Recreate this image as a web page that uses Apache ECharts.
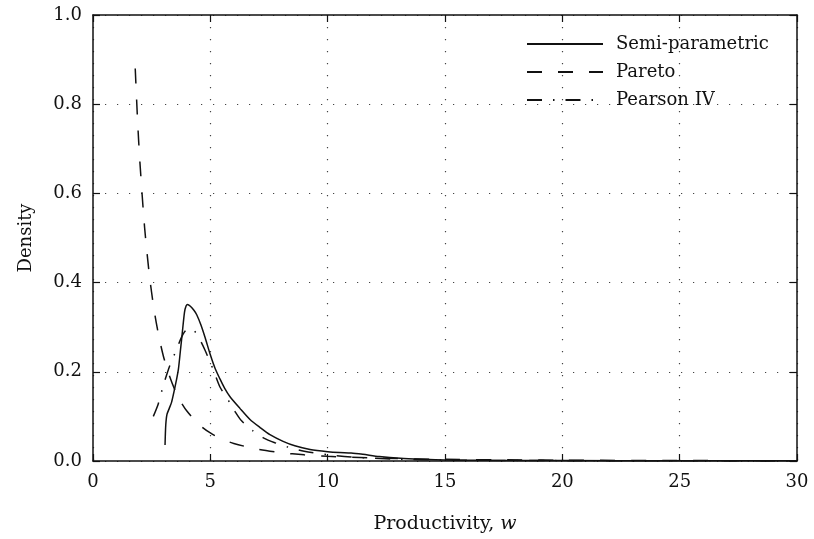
<!DOCTYPE html>
<html>
<head>
<meta charset="utf-8">
<script src="https://cdn.jsdelivr.net/npm/echarts@6/dist/echarts.min.js"></script>
<style>
  html, body { margin: 0; padding: 0; background: #fff; }
  #chart { width: 814px; height: 539px; }
</style>
</head>
<body>
<div id="chart"></div>
<script>
// Estimated density of productivity w under three models
const semiParametric = [
  [3.07, 0.036], [3.10, 0.080], [3.15, 0.104], [3.25, 0.118], [3.35, 0.132],
  [3.45, 0.155], [3.55, 0.180], [3.64, 0.206], [3.72, 0.245], [3.80, 0.285],
  [3.90, 0.334], [3.97, 0.348], [4.03, 0.351], [4.15, 0.347], [4.30, 0.338],
  [4.42, 0.328], [4.60, 0.305], [4.77, 0.278], [5.00, 0.238], [5.20, 0.208],
  [5.41, 0.184], [5.60, 0.164], [5.84, 0.144], [6.26, 0.118], [6.69, 0.093],
  [7.12, 0.075], [7.54, 0.059], [8.10, 0.044], [8.60, 0.034], [9.25, 0.026],
  [10.0, 0.021], [10.5, 0.019], [11.0, 0.018], [11.5, 0.015], [12.2, 0.010],
  [13.1, 0.006], [14.0, 0.004], [15.0, 0.0025], [17.0, 0.0016], [20.0, 0.0010],
  [25.0, 0.0006], [30.0, 0.0003]
];

const pareto = [
  [1.80, 0.880], [1.90, 0.763], [2.00, 0.669], [2.20, 0.523], [2.40, 0.418],
  [2.60, 0.340], [2.80, 0.281], [3.00, 0.235], [3.25, 0.192], [3.50, 0.158],
  [3.75, 0.132], [4.00, 0.112], [4.50, 0.0825], [5.00, 0.0628], [5.50, 0.049],
  [6.00, 0.0393], [7.00, 0.0264], [8.00, 0.0187], [9.00, 0.0138], [10.0, 0.0105],
  [12.0, 0.0066], [15.0, 0.0037], [20.0, 0.0018], [25.0, 0.0010], [30.0, 0.0006]
];

const pearsonIV = [
  [2.57, 0.100], [2.78, 0.128], [3.00, 0.170], [3.28, 0.215], [3.56, 0.250],
  [3.75, 0.275], [3.92, 0.291], [4.13, 0.298], [4.30, 0.293], [4.50, 0.278],
  [4.77, 0.249], [5.13, 0.204], [5.41, 0.166], [5.84, 0.130], [6.05, 0.111],
  [6.33, 0.090], [6.83, 0.067], [7.26, 0.052], [7.75, 0.041], [8.32, 0.031],
  [9.00, 0.022], [10.0, 0.014], [11.0, 0.009], [12.0, 0.006], [13.0, 0.004],
  [15.0, 0.002], [20.0, 0.0008], [25.0, 0.0004], [30.0, 0.0002]
];

const seriesNames = ['Semi-parametric', 'Pareto', 'Pearson IV'];
const xTicks = [0, 5, 10, 15, 20, 25, 30];
const yTicks = [0.0, 0.2, 0.4, 0.6, 0.8, 1.0];

const FONT = '"DejaVu Serif", "Liberation Serif", serif';
const INK = '#111';
const FS = 18;

const chart = echarts.init(document.getElementById('chart'), null, { renderer: 'canvas' });

const frameAxis = {
  axisLine: { show: true, onZero: false, lineStyle: { color: INK, width: 1.5 } },
  axisTick: { show: true, inside: true, length: 7, lineStyle: { color: INK, width: 1.2 } },
  axisLabel: { show: false },
  splitLine: { show: false }
};

chart.setOption({
  animation: false,
  backgroundColor: '#fff',
  grid: { left: 93, right: 17, top: 15, bottom: 78 },
  legend: {
    orient: 'vertical',
    left: 526,
    top: 35,
    padding: 0,
    itemWidth: 76,
    itemHeight: 20,
    itemGap: 10,
    data: seriesNames,
    itemStyle: { opacity: 0 },
    textStyle: { fontFamily: FONT, fontSize: FS, color: INK, padding: [0, 0, 0, 8] }
  },
  xAxis: [
    {
      type: 'value', min: xTicks[0], max: xTicks[xTicks.length - 1], interval: 5,
      position: 'bottom',
      name: '{n|Productivity, }{w|w}',
      nameLocation: 'middle',
      nameGap: 54,
      nameTextStyle: {
        rich: {
          n: { fontFamily: FONT, fontSize: 19, color: INK },
          w: { fontFamily: FONT, fontSize: 19, fontStyle: 'italic', color: INK }
        }
      },
      axisLine: { show: true, onZero: false, lineStyle: { color: INK, width: 1.5 } },
      axisTick: { show: true, inside: true, length: 7, lineStyle: { color: INK, width: 1.2 } },
      axisLabel: { fontFamily: FONT, fontSize: FS, color: INK, margin: 12 },
      splitLine: { show: true, lineStyle: { color: '#444', width: 1.2, type: [1.2, 10.8] } }
    },
    Object.assign({ type: 'value', min: 0, max: 30, interval: 5, position: 'top' }, frameAxis)
  ],
  yAxis: [
    {
      type: 'value', min: yTicks[0], max: yTicks[yTicks.length - 1], interval: 0.2,
      position: 'left',
      name: 'Density',
      nameLocation: 'middle',
      nameGap: 58,
      nameTextStyle: { fontFamily: FONT, fontSize: FS, color: INK },
      axisLine: { show: true, onZero: false, lineStyle: { color: INK, width: 1.5 } },
      axisTick: { show: true, inside: true, length: 7, lineStyle: { color: INK, width: 1.2 } },
      axisLabel: {
        fontFamily: FONT, fontSize: FS, color: INK, margin: 11,
        formatter: v => v.toFixed(1)
      },
      splitLine: { show: true, lineStyle: { color: '#444', width: 1.2, type: [1.2, 10.8] } }
    },
    Object.assign({ type: 'value', min: 0, max: 1, interval: 0.2, position: 'right' }, frameAxis)
  ],
  series: [
    {
      name: seriesNames[0], type: 'line', data: semiParametric,
      showSymbol: false, symbol: 'none', smooth: 0.25,
      lineStyle: { color: INK, width: 1.5, type: 'solid' },
      itemStyle: { color: INK }
    },
    {
      name: seriesNames[1], type: 'line', data: pareto,
      showSymbol: false, symbol: 'none', smooth: 0.25,
      lineStyle: { color: INK, width: 1.5, type: [15, 16] },
      itemStyle: { color: INK }
    },
    {
      name: seriesNames[2], type: 'line', data: pearsonIV,
      showSymbol: false, symbol: 'none', smooth: 0.25,
      lineStyle: { color: INK, width: 1.5, type: [15, 11, 1.5, 11] },
      itemStyle: { color: INK }
    }
  ]
});
</script>
</body>
</html>
